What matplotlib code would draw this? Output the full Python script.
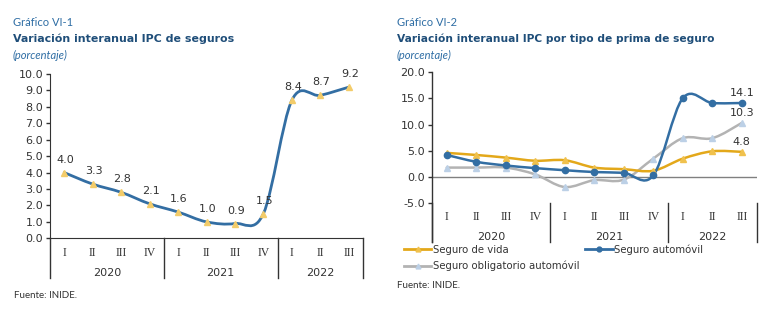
import numpy as np
import matplotlib
matplotlib.use('Agg')
import matplotlib.pyplot as plt
from matplotlib.path import Path
from matplotlib.patches import PathPatch
from matplotlib.lines import Line2D
import matplotlib.transforms as mtransforms

# data
quarters = ['I', 'II', 'III', 'IV', 'I', 'II', 'III', 'IV', 'I', 'II', 'III']
years = ['2020', '2021', '2022']
year_spans = [(0, 3), (4, 7), (8, 10)]

ipc_seguros = [4.0, 3.3, 2.8, 2.1, 1.6, 1.0, 0.9, 1.5, 8.4, 8.7, 9.2]

seguro_vida = [4.6, 4.2, 3.7, 3.1, 3.2, 1.8, 1.5, 1.2, 3.5, 4.9, 4.8]
seguro_auto = [4.2, 2.9, 2.2, 1.7, 1.3, 0.95, 0.8, 0.3, 15.0, 14.1, 14.1]
seguro_oblig = [1.8, 1.8, 1.8, 0.5, -1.9, -0.6, -0.5, 3.5, 7.4, 7.4, 10.3]

BLUE = '#336ea3'
YELLOW = '#e3a81a'
GRAY = '#b3b3b3'
TITLE_BLUE = '#1f4e79'
LIGHT_BLUE_TXT = '#2e6da4'
W, H = 782, 324


def smooth_patch(x, y, color, lw):
    # bezier smoothing like the spreadsheet "smoothed line"
    n = len(x)
    verts = [(x[0], y[0])]
    codes = [Path.MOVETO]
    for i in range(n - 1):
        a = i - 1 if i > 0 else i
        d = i + 2 if i + 2 < n else i + 1
        c1 = (x[i] + (x[i + 1] - x[a]) / 6, y[i] + (y[i + 1] - y[a]) / 6)
        c2 = (x[i + 1] - (x[d] - x[i]) / 6, y[i + 1] - (y[d] - y[i]) / 6)
        verts += [c1, c2, (x[i + 1], y[i + 1])]
        codes += [Path.CURVE4] * 3
    return PathPatch(Path(verts, codes), fill=False, edgecolor=color, lw=lw,
                     capstyle='round', joinstyle='round', zorder=3)


def fy(py):
    return 1 - py / H


def category_axis(ax, fig, y_tick, y_year, y_top, y_bot):
    tr = mtransforms.blended_transform_factory(ax.transData, fig.transFigure)
    for i, q in enumerate(quarters):
        ax.text(i, fy(y_tick), q, transform=tr, ha='center', va='center',
                fontsize=8.5, family='Liberation Serif', color='#333333')
    for yr, (a, b) in zip(years, year_spans):
        ax.text((a + b) / 2, fy(y_year), yr, transform=tr, ha='center', va='center',
                fontsize=8, color='#333333')
    for xs in [-0.5, 3.5, 7.5, 10.5]:
        ax.plot([xs, xs], [fy(y_top), fy(y_bot)], transform=tr, color='#333333',
                lw=1.0, clip_on=False)


fig = plt.figure(figsize=(W / 100, H / 100), dpi=100)

# ---------------- chart 1 ----------------
ax1 = fig.add_axes([50 / W, fy(238.3), 313 / W, (238.3 - 74) / H])
x = np.arange(len(ipc_seguros))
ax1.add_patch(smooth_patch(x, ipc_seguros, BLUE, 2.0))
ax1.plot(x, ipc_seguros, ls='none', marker='^', ms=4.5, color='#f3cc6a', zorder=4)
for xi, v in zip(x, ipc_seguros):
    ax1.annotate(f'{v:.1f}', (xi, v), xytext=(1, 13), textcoords='offset pixels',
                 ha='center', va='center', fontsize=8, color='#333333')
ax1.set_xlim(-0.5, 10.5)
ax1.set_ylim(0, 10)
ax1.set_yticks(np.arange(0, 10.1, 1))
ax1.set_yticklabels([f'{t:.1f}' for t in np.arange(0, 10.1, 1)])
ax1.set_xticks([])
ax1.tick_params(axis='y', direction='out', length=3, width=1, labelsize=8,
                colors='#333333', pad=2)
for s in ['top', 'right']:
    ax1.spines[s].set_visible(False)
ax1.spines['left'].set_color('#333333')
ax1.spines['bottom'].set_color('#333333')
category_axis(ax1, fig, 253, 273, 238.3, 278)

fig.text(13 / W, fy(22), 'Gráfico VI-1', fontsize=8, color=LIGHT_BLUE_TXT,
         va='center', family='Lato')
fig.text(13 / W, fy(39), 'Variación interanual IPC de seguros', fontsize=7.9,
         color=TITLE_BLUE, va='center', weight='bold', family='DejaVu Sans')
fig.text(13 / W, fy(55), '(porcentaje)', fontsize=8, color=LIGHT_BLUE_TXT,
         va='center', style='italic', family='Lato')
fig.text(14 / W, fy(295), 'Fuente: INIDE.', fontsize=7, color='#333333',
         va='center', family='Lato')

# ---------------- chart 2 ----------------
ax2 = fig.add_axes([432 / W, fy(203.3), 324.5 / W, (203.3 - 72) / H])
ax2.axhline(0, color='#808080', lw=1.0, zorder=1)
ax2.add_patch(smooth_patch(x, seguro_oblig, GRAY, 1.8))
ax2.add_patch(smooth_patch(x, seguro_vida, YELLOW, 1.8))
ax2.add_patch(smooth_patch(x, seguro_auto, BLUE, 1.8))
ax2.plot(x, seguro_oblig, ls='none', marker='^', ms=4.5, color='#bcd0e6', zorder=4)
ax2.plot(x, seguro_vida, ls='none', marker='^', ms=4, color='#f0c14d', zorder=4)
ax2.plot(x, seguro_auto, ls='none', marker='o', ms=4.5, color=BLUE, zorder=4)
for series in [seguro_auto, seguro_oblig, seguro_vida]:
    ax2.annotate(f'{series[-1]:.1f}', (x[-1], series[-1]), xytext=(0, 10),
                 textcoords='offset pixels', ha='center', va='center',
                 fontsize=8, color='#333333')
ax2.set_xlim(-0.5, 10.5)
ax2.set_ylim(-5, 20)
ax2.set_yticks(np.arange(-5, 20.1, 5))
ax2.set_yticklabels([f'{t:.1f}' for t in np.arange(-5, 20.1, 5)])
ax2.set_xticks([])
ax2.tick_params(axis='y', direction='out', length=3, width=1, labelsize=8,
                colors='#333333', pad=2)
for s in ['top', 'right', 'bottom']:
    ax2.spines[s].set_visible(False)
ax2.spines['left'].set_visible(False)
tr2 = mtransforms.blended_transform_factory(ax2.transData, fig.transFigure)
ax2.plot([-0.5, -0.5], [fy(72), fy(241.7)], transform=tr2, color='#333333',
         lw=1.0, clip_on=False)
category_axis(ax2, fig, 217, 237, 203.3, 241.7)

handles = [
    Line2D([], [], color=YELLOW, lw=2, marker='^', ms=3.5, mfc='#f0c14d', mec='#f0c14d'),
    Line2D([], [], color=GRAY, lw=2, marker='^', ms=3.5, mfc='#bcd0e6', mec='#bcd0e6'),
    Line2D([], [], color=BLUE, lw=2, marker='o', ms=3.5),
]
labels = ['Seguro de vida', 'Seguro obligatorio automóvil', 'Seguro automóvil']
fig.legend(handles, labels, ncol=2, loc='upper left',
           bbox_to_anchor=(404 / W, fy(244.5)), frameon=False, fontsize=7.3,
           handlelength=2.7, handletextpad=0.15, columnspacing=0.6,
           labelspacing=0.55, borderpad=0, borderaxespad=0,
           labelcolor='#333333')

fig.text(397 / W, fy(23), 'Gráfico VI-2', fontsize=8, color=LIGHT_BLUE_TXT,
         va='center', family='Lato')
fig.text(397 / W, fy(39), 'Variación interanual IPC por tipo de prima de seguro',
         fontsize=7.7, color=TITLE_BLUE, va='center', weight='bold', family='DejaVu Sans')
fig.text(397 / W, fy(55), '(porcentaje)', fontsize=8, color=LIGHT_BLUE_TXT,
         va='center', style='italic', family='Lato')
fig.text(397 / W, fy(285), 'Fuente: INIDE.', fontsize=7, color='#333333',
         va='center', family='Lato')

fig.savefig('out.png', dpi=100)
